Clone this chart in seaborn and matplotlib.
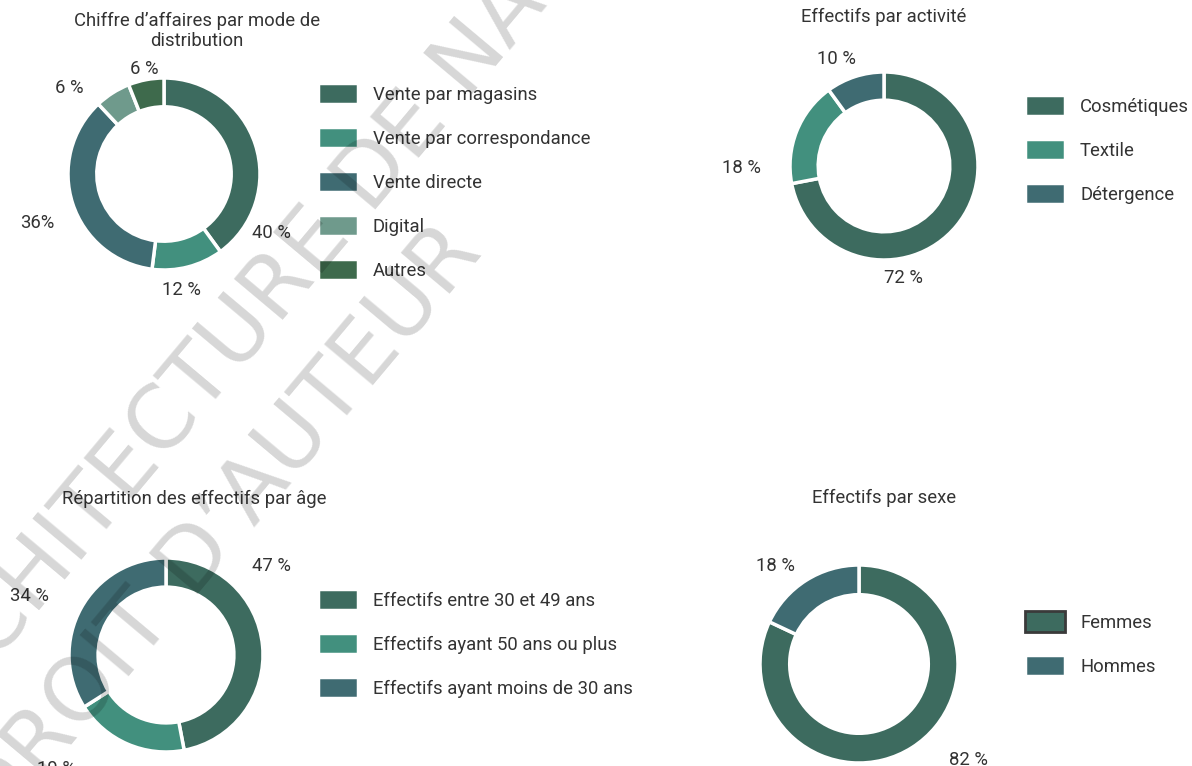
import matplotlib
matplotlib.use("Agg")
import matplotlib.pyplot as plt
import seaborn as sns

# --- data ---
canal_labels = ["Vente par magasins", "Vente par correspondance", "Vente directe", "Digital", "Autres"]
canal_values = [40, 12, 36, 6, 6]
canal_texts = ["40 %", "12 %", "36%", "6 %", "6 %"]

activite_labels = ["Cosmétiques", "Textile", "Détergence"]
activite_values = [72, 18, 10]
activite_texts = ["72 %", "18 %", "10 %"]

age_labels = ["Effectifs entre 30 et 49 ans", "Effectifs ayant 50 ans ou plus",
              "Effectifs ayant moins de 30 ans"]
age_values = [47, 19, 34]
age_texts = ["47 %", "19 %", "34 %"]

sexe_labels = ["Femmes", "Hommes"]
sexe_values = [82, 18]
sexe_texts = ["82 %", "18 %"]

# --- style ---
sns.set_theme(style="white")
plt.rcParams["font.family"] = ["Roboto", "DejaVu Sans"]
TXT = "#333333"
FS = 13.3

DARK, TEAL, BLUE = "#3d6b5f", "#42907e", "#3f6b72"
pal_canal = sns.color_palette([DARK, TEAL, BLUE, "#6f9a8c", "#3e6a4c"])
pal_act = sns.color_palette([DARK, TEAL, BLUE])
pal_sexe = sns.color_palette([DARK, BLUE])

W, H = 1192, 766
fig = plt.figure(figsize=(W / 100, H / 100), dpi=100)
fig.patch.set_facecolor("white")


def fx(x):
    return x / W


def fy(y):
    return 1 - y / H


def donut(cx, cy, r, values, colors):
    ax = fig.add_axes([fx(cx - r), fy(cy + r), 2 * r / W, 2 * r / H])
    wedges, _ = ax.pie(values, colors=colors, startangle=90, counterclock=False,
                       radius=1, wedgeprops=dict(width=0.3, edgecolor="white", linewidth=2.5))
    ax.set_xlim(-1, 1)
    ax.set_ylim(-1, 1)
    ax.set_aspect("equal")
    ax.axis("off")
    return wedges


def legend(wedges, labels, x, y):
    hp = FS * 100 / 72
    hh = (21 / hp - 0.245) / 0.65
    leg = fig.legend(wedges, labels, loc="upper left", bbox_to_anchor=(fx(x), fy(y)),
                     frameon=False, borderpad=0, borderaxespad=0,
                     handlelength=40 / hp, handleheight=hh, handletextpad=15 / hp,
                     labelspacing=23 / hp, fontsize=FS, labelcolor=TXT)
    return leg


def labels_at(texts, positions):
    for t, (x, y) in zip(texts, positions):
        fig.text(fx(x), fy(y), t, ha="center", va="center", fontsize=FS, color=TXT)


# chart 1
w1 = donut(164, 174, 96, canal_values, pal_canal)
fig.text(fx(197), fy(31), "Chiffre d’affaires par mode de\ndistribution", ha="center",
         va="center", fontsize=FS, color=TXT, linespacing=1.2)
labels_at(canal_texts, [(271, 233), (181, 290), (37, 223), (69, 88), (144, 69)])
legend(w1, canal_labels, 318, 83)

# chart 2
w2 = donut(884, 166, 94, activite_values, pal_act)
fig.text(fx(884), fy(17), "Effectifs par activité", ha="center", va="center", fontsize=FS, color=TXT)
labels_at(activite_texts, [(903, 278), (741, 168), (836, 59)])
legend(w2, activite_labels, 1025, 95)

# chart 3
w3 = donut(166, 655, 97, age_values, pal_act)
fig.text(fx(194), fy(499), "Répartition des effectifs par âge", ha="center", va="center",
         fontsize=FS, color=TXT)
labels_at(age_texts, [(271, 566), (56, 769), (29, 596)])
legend(w3, age_labels, 318, 589)

# chart 4
w4 = donut(859, 664, 99, sexe_values, pal_sexe)
fig.text(fx(884), fy(498), "Effectifs par sexe", ha="center", va="center", fontsize=FS, color=TXT)
labels_at(sexe_texts, [(968, 760), (775, 566)])
leg4 = legend(w4, sexe_labels, 1025, 611)
leg4.legend_handles[0].set_edgecolor("#3a3a3a")
leg4.legend_handles[0].set_linewidth(2)

# watermark
for txt, (x, y) in [("ARCHITECTURE DE NANTES", (290, 275)), ("DROIT D’AUTEUR", (222, 528))]:
    fig.text(fx(x), fy(y), txt, ha="center", va="center", rotation=50, rotation_mode="anchor",
             fontsize=63, color="black", alpha=0.16, family="DejaVu Sans", zorder=10)

fig.savefig("out.png", dpi=100, facecolor="white")
